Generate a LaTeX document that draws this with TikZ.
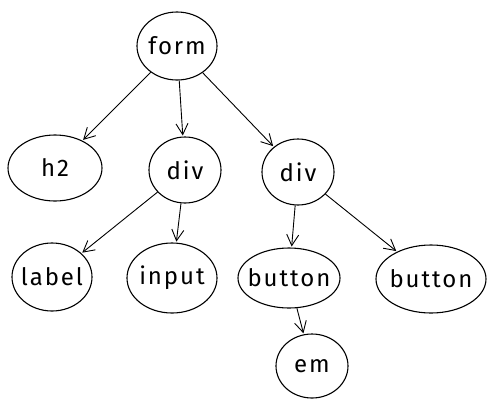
\documentclass[tikz,border=0pt]{standalone}
\usepackage{fontspec}
\setmainfont{Fira Sans}
\usetikzlibrary{shapes.geometric,arrows.meta}
\newcommand{\fixtext}[1]{\makebox[0pt]{#1}}
\begin{document}
\begin{tikzpicture}[x=1pt,y=-1pt,
  el/.style={draw, ellipse, line width=1.1pt, inner sep=0pt, font=\fontsize{24}{28}\selectfont\addfontfeature{LetterSpace=8}},
  conn/.style={line width=0.9pt, -{Straight Barb[length=11pt,width=12pt,line width=0.9pt]}, shorten >=1pt}]
\useasboundingbox (0,0) rectangle (495,408);
\node[el, minimum width=80pt, minimum height=68pt] (form) at (177,46) {\fixtext{form}};
\node[el, minimum width=94pt, minimum height=66pt] (h2) at (55,168) {\fixtext{h2}};
\node[el, minimum width=72pt, minimum height=66pt] (div1) at (185,170) {\fixtext{div}};
\node[el, minimum width=72pt, minimum height=66pt] (div2) at (298,172) {\fixtext{div}};
\node[el, minimum width=80pt, minimum height=68pt] (label) at (52,277) {\fixtext{label}};
\node[el, minimum width=90pt, minimum height=70pt] (input) at (172,278) {\fixtext{input}};
\node[el, minimum width=102pt, minimum height=60pt] (button1) at (289,278) {\fixtext{button}};
\node[el, minimum width=110pt, minimum height=68pt] (button2) at (431,279) {\fixtext{button}};
\node[el, minimum width=72pt, minimum height=64pt] (em) at (312,366) {\fixtext{em}};
\draw[conn] (form) -- (h2);
\draw[conn] (form) -- (div1);
\draw[conn] (form) -- (div2);
\draw[conn] (div1) -- (label);
\draw[conn] (div1) -- (input);
\draw[conn] (div2) -- (button1);
\draw[conn] (div2) -- (button2);
\draw[conn] (button1) -- (em);
\end{tikzpicture}
\end{document}
